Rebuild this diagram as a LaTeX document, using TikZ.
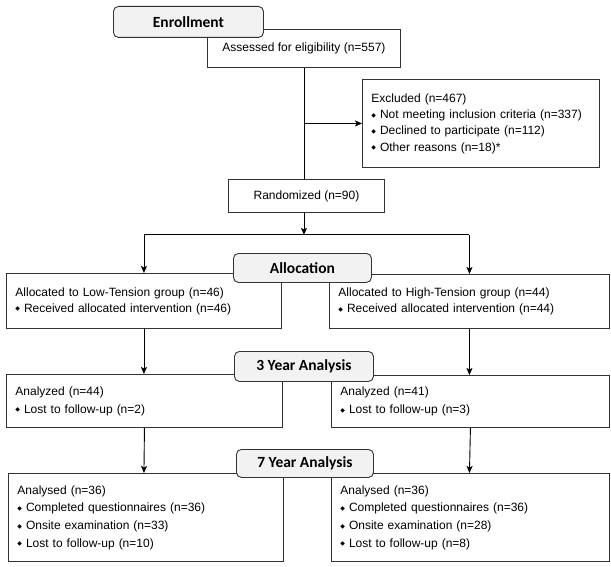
\documentclass[tikz,border=0pt]{standalone}
\usepackage{fontspec}
\setmainfont{Liberation Sans}
\newfontfamily\headfont{Carlito}
\newfontfamily\symfont{DejaVu Sans}
\usetikzlibrary{arrows.meta,calc}
\definecolor{headfill}{HTML}{F2F2F2}
\definecolor{linegray}{HTML}{333333}
\newcommand{\itm}{\raisebox{1.3pt}{\symfont\fontsize{6}{6}\selectfont ◆}\hspace{4pt}}

\begin{document}
\begin{tikzpicture}[x=1pt,y=-1pt,
        box/.style={draw=linegray,line width=0.9pt,fill=white,anchor=north west,
            inner xsep=9pt,inner ysep=0pt,align=left,font=\fontsize{12}{16}\selectfont},
        mid/.style={draw=linegray,line width=0.9pt,fill=white,anchor=north west,
            align=center,font=\fontsize{12}{16}\selectfont},
        head/.style={draw=linegray,line width=0.9pt,fill=headfill,rounded corners=5pt,
            anchor=north west,font=\headfont\bfseries\fontsize{15.5}{18}\selectfont},
        arr/.style={draw=black,line width=0.9pt,-{Stealth[length=7pt,width=6pt,inset=1.5pt]}},
        con/.style={draw=black,line width=0.9pt}]
        \useasboundingbox (0,0) rectangle (611,567);
        % enrollment
        \node[mid,minimum width=193pt,minimum height=38pt] (assess) at (207,29) {Assessed for eligibility (n=557)};
        \node[head,minimum width=150pt,minimum height=31pt] (enrol) at (113,6) {Enrollment};
        \node[box,minimum width=237pt,minimum height=88pt,text width=219pt,
            font=\fontsize{12}{16.3}\selectfont] (excl) at (362,79)
            {Excluded (n=467)\\ \itm Not meeting inclusion criteria (n=337)\\
             \itm Declined to participate (n=112)\\ \itm Other reasons (n=18)*};
        \node[mid,minimum width=156pt,minimum height=33pt] (rand) at (228,179) {Randomized (n=90)};
        \draw[con] (assess.south) -- (assess.south |- rand.north);
        \draw[arr] (assess.south |- excl.west) -- (excl.west);
        \coordinate (split) at ($(assess.south |- rand.south)+(0,22)$);
        \draw[arr] (assess.south |- rand.south) -- (split);
        % allocation
        \node[box,minimum width=275pt,minimum height=55pt,text width=257pt] (low) at (6,273)
            {Allocated to Low-Tension group (n=46)\\ \itm Received allocated intervention (n=46)};
        \node[box,minimum width=280pt,minimum height=54pt,text width=262pt] (high) at (329,274)
            {Allocated to High-Tension group (n=44)\\ \itm Received allocated intervention (n=44)};
        \draw[con] (low.north |- split) -- (high.north |- split);
        \draw[arr] (low.north |- split) -- (low.north);
        \draw[arr] (high.north |- split) -- (high.north);
        \node[head,minimum width=138pt,minimum height=29pt] (alloc) at (233,253) {Allocation};
        % 3 year analysis
        \node[box,minimum width=276pt,minimum height=53pt,text width=258pt,
            font=\fontsize{12}{18}\selectfont] (anal) at (6,374)
            {Analyzed (n=44)\\ \itm Lost to follow-up (n=2)};
        \node[box,minimum width=278pt,minimum height=52pt,text width=260pt,
            font=\fontsize{12}{18}\selectfont] (anah) at (331,375)
            {Analyzed (n=41)\\ \itm Lost to follow-up (n=3)};
        \draw[arr] (low.south) -- (low.south |- anal.north);
        \draw[arr] (high.south) -- (high.south |- anah.north);
        \node[head,minimum width=139pt,minimum height=30pt] (three) at (234,351) {3 Year Analysis};
        % 7 year analysis
        \node[box,minimum width=275pt,minimum height=88pt,text width=257pt,
            font=\fontsize{12}{17.7}\selectfont] (sevl) at (8,473)
            {Analysed (n=36)\\ \itm Completed questionnaires (n=36)\\
             \itm Onsite examination (n=33)\\ \itm Lost to follow-up (n=10)};
        \node[box,minimum width=278pt,minimum height=88pt,text width=260pt,
            font=\fontsize{12}{17.7}\selectfont] (sevh) at (331,473)
            {Analysed (n=36)\\ \itm Completed questionnaires (n=36)\\
             \itm Onsite examination (n=28)\\ \itm Lost to follow-up (n=8)};
        \draw[arr] (anal.south) -- (low.south |- sevl.north);
        \draw[arr] (anah.south) -- (high.south |- sevh.north);
        \node[head,minimum width=137pt,minimum height=28pt] (seven) at (236,449) {7 Year Analysis};
\end{tikzpicture}
\end{document}
